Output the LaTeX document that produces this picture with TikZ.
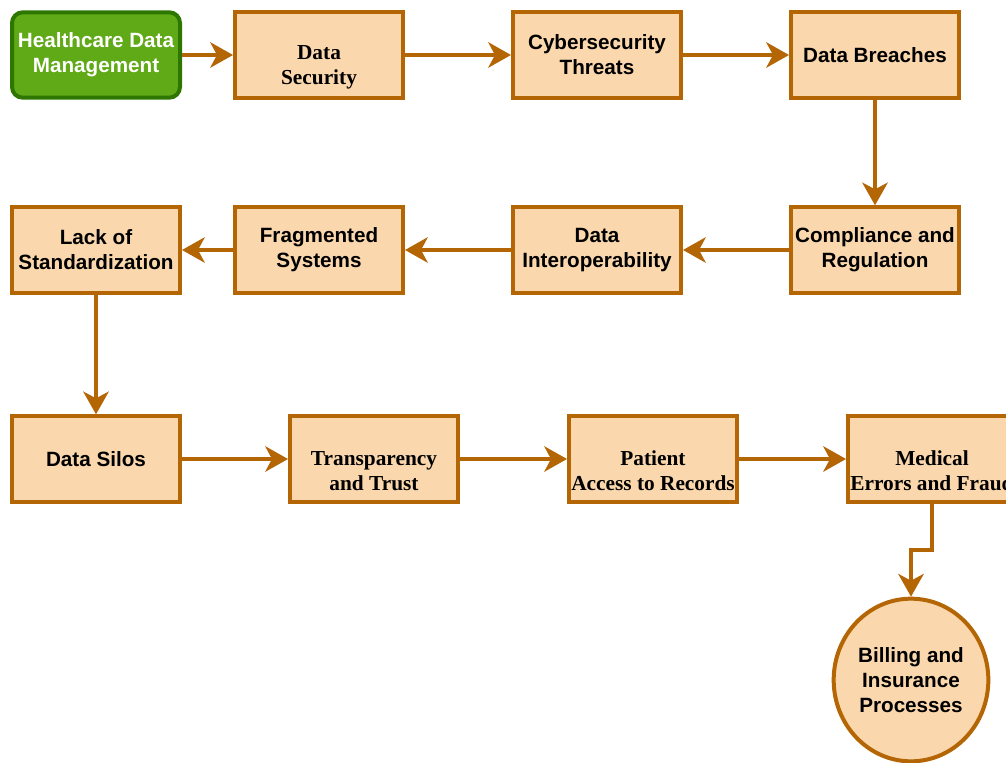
\documentclass[tikz,border=0pt]{standalone}
\usepackage{fontspec}
\setmainfont{Liberation Serif}
\setsansfont{Liberation Sans}
\usetikzlibrary{arrows.meta, shapes.geometric}

\definecolor{boxfill}{HTML}{FAD7AC}
\definecolor{boxline}{HTML}{B46504}
\definecolor{startfill}{HTML}{60A917}
\definecolor{startline}{HTML}{2D7600}

\begin{document}
\begin{tikzpicture}[x=0.75pt, y=-0.75pt,
    box/.style={draw=boxline, fill=boxfill, line width=3pt,
        minimum width=126pt, minimum height=64pt, align=center,
        inner sep=1pt, font=\sffamily\bfseries\fontsize{15.5}{18.6}\selectfont},
    serifbox/.style={box, label={[align=center, yshift=-9pt,
        font=\rmfamily\bfseries\fontsize{16}{18.6}\selectfont]center:#1}},
    startbox/.style={box, draw=startline, fill=startfill, text=white,
        rounded corners=8pt},
    endnode/.style={ellipse, draw=boxline, fill=boxfill, line width=3pt,
        minimum width=116pt, minimum height=122pt, align=center,
        inner sep=1pt, font=\sffamily\bfseries\fontsize{15.5}{18.6}\selectfont},
    flow/.style={draw=boxline, line width=3pt,
        -{Stealth[length=17pt, width=19pt, inset=5pt]}}]
    \useasboundingbox (0,0) rectangle (1006,763);
    \clip (0,0) rectangle (1006,763);

    % first row
    \node[startbox] (hdm) at (96,55) {Healthcare Data\\Management};
    \node[serifbox={Data\\Security}] (sec) at (319,55) {};
    \node[box] (cyber) at (597,55) {Cybersecurity\\Threats};
    \node[box] (breach) at (875,55) {Data Breaches};

    % second row
    \node[box] (comp) at (875,250) {Compliance and\\Regulation};
    \node[box] (interop) at (597,250) {Data\\Interoperability};
    \node[box] (frag) at (319,250) {Fragmented\\Systems};
    \node[box] (std) at (96,250) {Lack of\\Standardization};

    % third row
    \node[box] (silos) at (96,459) {Data Silos};
    \node[serifbox={Transparency\\and Trust}] (trust) at (374,459) {};
    \node[serifbox={Patient\\Access to Records}] (access) at (653,459) {};
    \node[serifbox={Medical\\Errors and Fraud}] (errors) at (932,459) {};

    \node[endnode] (billing) at (911,680) {Billing and\\Insurance\\Processes};

    \draw[flow] (hdm) -- (sec);
    \draw[flow] (sec) -- (cyber);
    \draw[flow] (cyber) -- (breach);
    \draw[flow] (breach) -- (comp);
    \draw[flow] (comp) -- (interop);
    \draw[flow] (interop) -- (frag);
    \draw[flow] (frag) -- (std);
    \draw[flow] (std) -- (silos);
    \draw[flow] (silos) -- (trust);
    \draw[flow] (trust) -- (access);
    \draw[flow] (access) -- (errors);
    \draw[flow] (errors.south) -- ++(0,46) -| (billing.north);
\end{tikzpicture}
\end{document}
